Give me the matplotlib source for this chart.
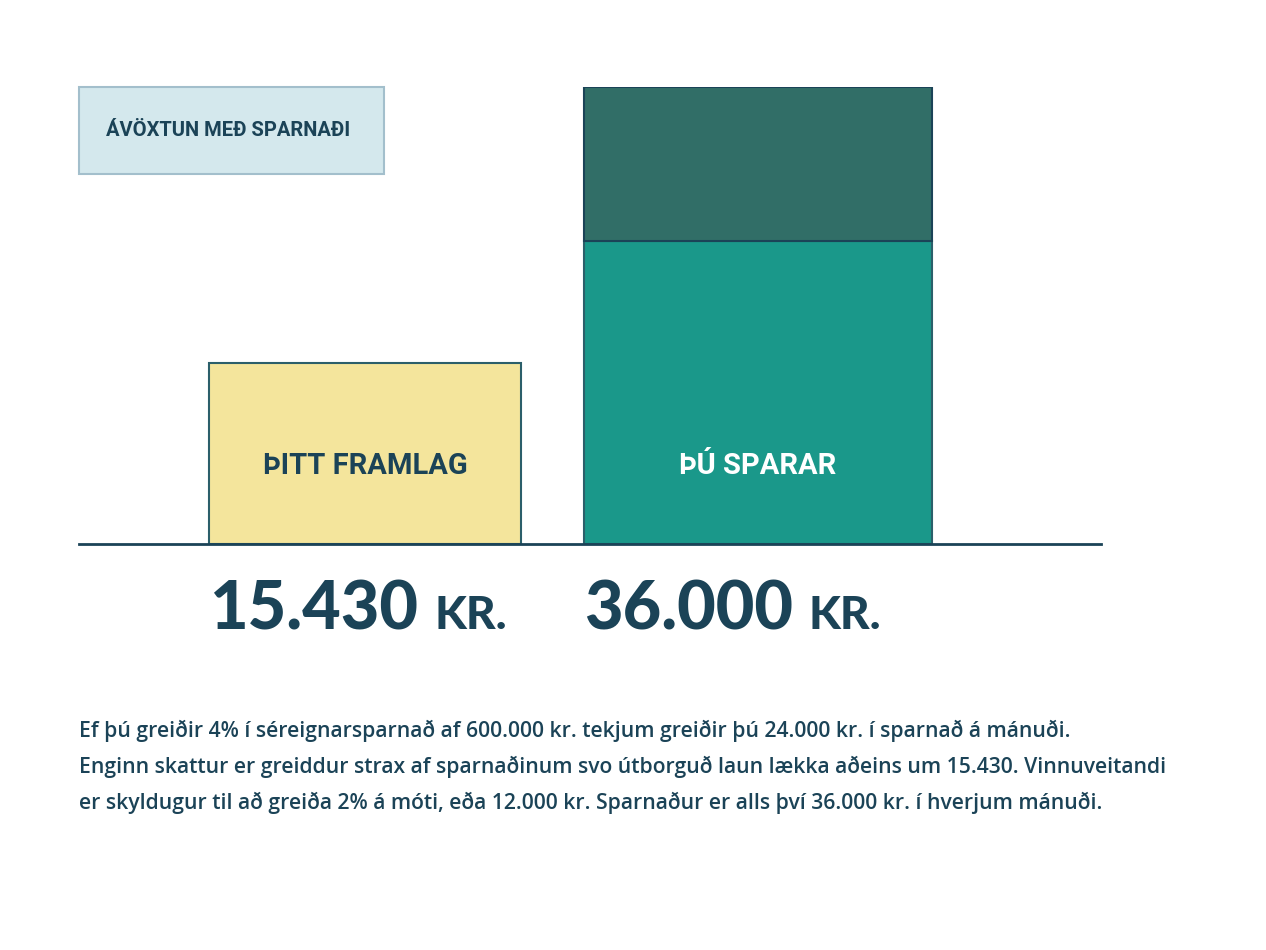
import matplotlib
matplotlib.use("Agg")
import matplotlib.pyplot as plt
from matplotlib.patches import Rectangle

# data (heights, in plot units)
categories = ["ÞITT FRAMLAG", "ÞÚ SPARAR"]
amounts = ["15.430", "36.000"]
unit = "KR."
base_heights = [181, 303]
return_heights = [0, 154]
legend_label = "ÁVÖXTUN MEÐ SPARNAÐI"
caption = ["Ef þú greiðir 4% í séreignarsparnað af 600.000 kr. tekjum greiðir þú 24.000 kr. í sparnað á mánuði.",
           "Enginn skattur er greiddur strax af sparnaðinum svo útborguð laun lækka aðeins um 15.430. Vinnuveitandi",
           "er skyldugur til að greiða 2% á móti, eða 12.000 kr. Sparnaður er alls því 36.000 kr. í hverjum mánuði."]

W, H = 1266, 950
NAVY = "#1b4357"
EDGE = "#2b5f6a"
base_colors = ["#f4e59c", "#1a988a"]
ret_color = "#316e67"
label_colors = [NAVY, "white"]

fig = plt.figure(figsize=(W/100, H/100), dpi=100)
fig.patch.set_facecolor("white")

# plot area: baseline y=544, top y=87, x from 79 to 1101
ax = fig.add_axes([79/W, (H-544)/H, (1101-79)/W, (544-87)/H])
ax.set_xlim(0, 1022)
ax.set_ylim(0, 457)
ax.axis("off")

centers = [286, 679]
widths = [312, 348]
ax.bar(centers, base_heights, width=widths, color=base_colors, edgecolor=EDGE, linewidth=1.5, zorder=2)
rb = ax.bar(centers, return_heights, bottom=base_heights, width=widths, color=ret_color,
            edgecolor=NAVY, linewidth=1.5, zorder=2)
rb[0].set_visible(False)  # no returns on the first bar
ax.axhline(0, color=NAVY, lw=2, zorder=3, clip_on=False)

for c, lab, col in zip(centers, categories, label_colors):
    ax.text(c, 78, lab, ha="center", va="center", color=col, fontsize=21,
            fontweight="bold", family="Roboto")

# amounts under bars
fig.canvas.draw()
r = fig.canvas.get_renderer()
for c, w, amt in zip(centers, widths, amounts):
    t = ax.text(c - w/2, -85, amt, ha="left", va="baseline", color=NAVY,
                fontsize=48, fontweight="black", family="Lato")
    bb = t.get_window_extent(r).transformed(ax.transData.inverted())
    ax.text(bb.x1 + 16, -85, unit, ha="left", va="baseline", color=NAVY,
            fontsize=33, fontweight="black", family="Lato")

# legend box
fig.patches.append(Rectangle((79/W, 1-174/H), (384-79)/W, (174-87)/H, transform=fig.transFigure,
                             facecolor="#d4e8ed", edgecolor="#a3bfcc", linewidth=1.5))
fig.text(106/W, 1-131/H, legend_label, ha="left", va="center", color=NAVY, fontsize=14.5,
         fontweight="bold", family="Roboto")

for i, line in enumerate(caption):
    fig.text(79/W, 1-(731 + 36*i)/H, line, ha="left", va="center", color=NAVY, fontsize=15.2,
             fontweight="semibold", family="Open Sans")

fig.savefig("out.png", dpi=100, facecolor="white")
